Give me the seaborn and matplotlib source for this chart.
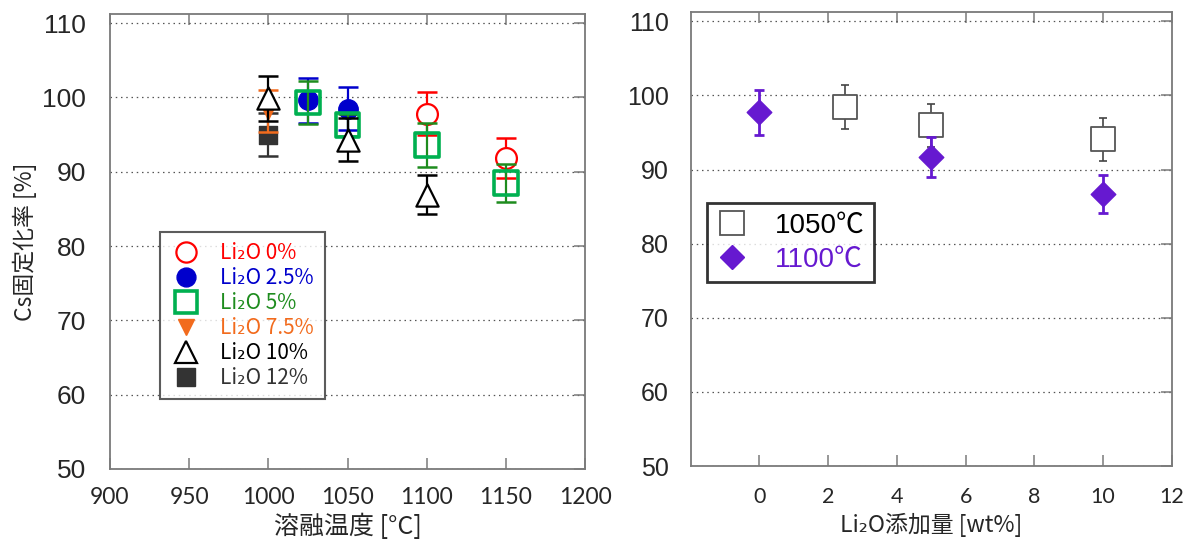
import numpy as np
import pandas as pd
import matplotlib
matplotlib.use("Agg")
import matplotlib.pyplot as plt
import seaborn as sns
from matplotlib.lines import Line2D

sns.set_style("white")
plt.rcParams['font.family'] = ['Liberation Sans', 'Noto Sans CJK JP', 'DejaVu Sans']

# ---------------- data: left panel (temperature series) ----------------
series_labels = ["Li₂O 0%", "Li₂O 2.5%", "Li₂O 5%", "Li₂O 7.5%", "Li₂O 10%", "Li₂O 12%"]
temp_0 = [1100, 1150]
val_0 = [97.8, 91.9]
err_0 = [2.9, 2.7]
temp_25 = [1025, 1050]
val_25 = [99.6, 98.5]
err_25 = [3.0, 2.9]
temp_5 = [1025, 1050, 1100, 1150]
val_5 = [99.3, 96.3, 93.6, 88.5]
err_5 = [2.9, 1.5, 2.9, 2.6]
temp_75 = [1000]
val_75 = [98.2]
err_75 = [2.8]
temp_10 = [1000, 1050, 1100]
val_10 = [99.9, 94.3, 86.9]
err_10 = [3.0, 2.9, 2.6]
temp_12 = [1000]
val_12 = [95.0]
err_12 = [2.9]

# ---------------- data: right panel (Li2O addition) ----------------
right_labels = ["1050℃", "1100℃"]
li_1050 = [2.5, 5, 10]
val_1050 = [98.4, 96.0, 94.1]
err_1050 = [3.0, 2.9, 2.9]
li_1100 = [0, 5, 10]
val_1100 = [97.7, 91.7, 86.7]
err_1100 = [3.0, 2.7, 2.6]

xticks_left = [900, 950, 1000, 1050, 1100, 1150, 1200]
xticks_right = [0, 2, 4, 6, 8, 10, 12]
yticks = [50, 60, 70, 80, 90, 100, 110]

JP = ['Noto Sans CJK JP', 'DejaVu Sans']

fig = plt.figure(figsize=(11.94, 5.42), dpi=100)
axL = fig.add_axes([0.0921, 0.1347, 0.398, 0.839])
axR = fig.add_axes([0.5785, 0.140, 0.403, 0.838])

def style_axes(ax, xlim, xticks, ylim, lab_size_x, lab_size_y, ypad, xpad):
    ax.set_xlim(*xlim)
    ax.set_ylim(*ylim)
    ax.set_xticks(xticks)
    ax.set_yticks(yticks)
    ax.yaxis.grid(True, linestyle=(0, (1.2, 3.0)), color='#555555', linewidth=0.9)
    ax.xaxis.grid(False)
    for s in ax.spines.values():
        s.set_color('#7a7a7a')
        s.set_linewidth(1.3)
    ax.tick_params(axis='both', direction='in', length=8, width=1.1, color='#7a7a7a',
                   top=True, right=True, bottom=True, left=False)
    ax.tick_params(axis='x', labelsize=lab_size_x, pad=xpad)
    ax.tick_params(axis='y', labelsize=lab_size_y, pad=ypad)
    for lab in ax.get_xticklabels():
        lab.set_family(['Lato', 'DejaVu Sans'])
    ax.set_axisbelow(True)

style_axes(axL, (900, 1200), xticks_left, (50, 111.2), 16.5, 19, 17, 13)
style_axes(axR, (-2, 12), xticks_right, (50, 111.25), 15.5, 18, 16, 15)

# ---------------- left panel ----------------
specs = [
    (temp_0, val_0, err_0, 'o', 'white', '#FF0000', '#FF0000', 15, 1.6),
    (temp_25, val_25, err_25, 'o', '#0000CC', '#0000CC', '#0000CC', 14, 1.0),
    (temp_5, val_5, err_5, 's', 'none', '#00B050', '#1E8C1E', 17, 2.6),
    (temp_75, val_75, err_75, 'v', '#F26B1D', '#F26B1D', '#F26B1D', 12, 1.0),
    (temp_10, val_10, err_10, '^', 'white', '#000000', '#000000', 16, 1.6),
    (temp_12, val_12, err_12, 's', '#333333', '#333333', '#333333', 13.5, 1.0),
]
order_z = [3, 4, 5, 3.5, 6, 2]
handles = []
for (x, y, e, m, fc, ec, errc, ms, mew), lab, z in zip(specs, series_labels, order_z):
    df = pd.DataFrame({'x': x, 'y': y, 'e': e})
    axL.errorbar(df['x'], df['y'], yerr=df['e'], fmt='none', ecolor=errc,
                 elinewidth=1.6, capsize=7, capthick=1.8, zorder=z)
    sns.scatterplot(data=df, x='x', y='y', ax=axL, marker=m, s=ms**2,
                    facecolor=fc, edgecolor=ec, linewidth=mew, zorder=z + 0.1, legend=False)
    handles.append(Line2D([], [], linestyle='none', marker=m, markersize=ms * 0.97,
                          markerfacecolor=fc if fc != 'none' else 'white',
                          markeredgecolor=ec, markeredgewidth=mew))

axL.set_xlabel('溶融温度 [°C]', fontsize=18, family=JP, labelpad=4)
axL.set_ylabel('Cs固定化率 [%]', fontsize=16.5, family=JP, labelpad=4)

legL = axL.legend(handles, series_labels, loc='upper left',
                  bbox_to_anchor=(0.134, 0.572), bbox_transform=fig.transFigure,
                  borderaxespad=0, frameon=True, fancybox=False,
                  prop={'family': JP, 'size': 15}, handlelength=1.45,
                  handletextpad=0.95, labelspacing=0.14, borderpad=0.5)
legL.get_frame().set_edgecolor('#333333')
legL.get_frame().set_linewidth(1.5)
text_colors = ['#FF0000', '#0000CC', '#1E8C1E', '#F26B1D', '#000000', '#333333']
for t, c in zip(legL.get_texts(), text_colors):
    t.set_color(c)

# ---------------- right panel ----------------
df1 = pd.DataFrame({'x': li_1050, 'y': val_1050, 'e': err_1050})
df2 = pd.DataFrame({'x': li_1100, 'y': val_1100, 'e': err_1100})
axR.errorbar(df1['x'], df1['y'], yerr=df1['e'], fmt='none', ecolor='#444444',
             elinewidth=1.2, capsize=3, capthick=1.2, zorder=3)
sns.scatterplot(data=df1, x='x', y='y', ax=axR, marker='s', s=17.5**2,
                facecolor='white', edgecolor='#555555', linewidth=1.3, zorder=3.1, legend=False)
axR.errorbar(df2['x'], df2['y'], yerr=df2['e'], fmt='none', ecolor='#6619D0',
             elinewidth=2.0, capsize=3.5, capthick=2.0, zorder=4)
sns.scatterplot(data=df2, x='x', y='y', ax=axR, marker='D', s=12.5**2,
                facecolor='#6619D0', edgecolor='#6619D0', linewidth=1.0, zorder=4.1, legend=False)

axR.set_xlabel('Li₂O添加量 [wt%]', fontsize=16.5, family=JP, labelpad=4)
axR.set_ylabel('')

hR = [Line2D([], [], linestyle='none', marker='s', markersize=17, markerfacecolor='white',
             markeredgecolor='#555555', markeredgewidth=1.3),
      Line2D([], [], linestyle='none', marker='D', markersize=12.5, markerfacecolor='#6619D0',
             markeredgecolor='#6619D0')]
legR = axR.legend(hR, right_labels, loc='upper left',
                  bbox_to_anchor=(0.592, 0.6255), bbox_transform=fig.transFigure,
                  borderaxespad=0, frameon=True, fancybox=False,
                  prop={'family': ['Liberation Sans', 'Noto Sans CJK JP', 'DejaVu Sans'], 'size': 20},
                  handlelength=1.1, handletextpad=1.0, labelspacing=0.28, borderpad=0.35)
legR.get_frame().set_edgecolor('#000000')
legR.get_frame().set_linewidth(2.0)
for t, c in zip(legR.get_texts(), ['#000000', '#6619D0']):
    t.set_color(c)

fig.savefig('out.png', dpi=100)
